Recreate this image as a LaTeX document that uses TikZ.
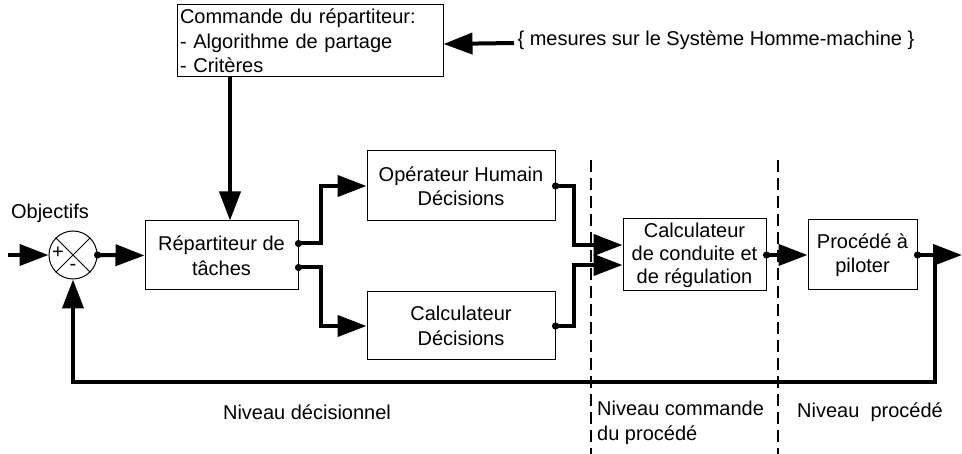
\documentclass[tikz,border=0pt]{standalone}
\usepackage{fontspec}
\setmainfont{Liberation Sans}
\usetikzlibrary{arrows.meta}
\begin{document}
\begin{tikzpicture}[x=1pt,y=-1pt,
  every node/.style={font=\fontsize{20}{24.5}\selectfont},
  box/.style={draw, line width=1pt, align=center, inner sep=0pt},
  conn/.style={line width=4pt, -{Triangle[length=29pt,width=21pt]}},
  dot/.style={fill=black},
  sign/.style={font=\fontsize{20}{20}\selectfont, inner sep=0pt},
  level/.style={line width=1.3pt, dash pattern=on 12pt off 6pt}]
\useasboundingbox (0,0) rectangle (962,454);

% boxes
\node[box, minimum width=266pt, minimum height=72pt, text width=260pt, align=left] (cmd) at (310,41)
  {Commande du répartiteur:\\- Algorithme de partage\\- Critères};
\node[anchor=west] (mes) at (514,40) {\{ mesures sur le Système Homme-machine \}};
\node (obj) at (50,213) {Objectifs};
\node[draw, circle, line width=1pt, minimum size=48pt, inner sep=0pt] (sum) at (73,255) {};
\draw[line width=1pt] (sum.north west) -- (sum.south east) (sum.north east) -- (sum.south west);
\node[sign] (plus) at (58,253) {+};
\node[sign] (minus) at (73,267) {-};
\node[box, minimum width=153pt, minimum height=69pt] (rep) at (221.5,255.5) {Répartiteur de\\tâches};
\node[box, minimum width=188pt, minimum height=70pt] (op) at (461,186) {Opérateur Humain\\Décisions};
\node[box, minimum width=188pt, minimum height=68pt] (cd) at (461,326) {Calculateur\\Décisions};
\node[box, minimum width=143pt, minimum height=72pt, font=\fontsize{20}{23}\selectfont] (cc) at (694.5,255) {Calculateur\\de conduite et\\de régulation};
\node[box, minimum width=109pt, minimum height=70pt] (pr) at (862.5,255) {Procédé à\\piloter};

% level separators
\coordinate (d1t) at (591,160); \coordinate (d1b) at (591,454);
\coordinate (d2t) at (778,160); \coordinate (d2b) at (778,454);
\draw[level] (d1t) -- (d1b);
\draw[level] (d2t) -- (d2b);

% connectors
\coordinate (in) at (8,255);
\draw[conn] (in) -- (sum.west);
\draw[conn] (sum.east) -- (rep.west);
\draw[conn] ([xshift=-80pt]cmd.south) -- ([xshift=-80pt]cmd.south |- rep.north);
\draw[conn] ([yshift=-3pt]mes.west) -- ([yshift=-3pt]cmd.east);
\draw[conn] ([yshift=12pt]rep.east) -- ++(22,0) |- (op.west);
\draw[conn] ([yshift=-12pt]rep.east) -- ++(22,0) |- (cd.west);
\draw[conn] (op.east) -- ++(18,0) |- ([yshift=10pt]cc.west);
\draw[conn] (cd.east) -- ++(18,0) |- ([yshift=-10pt]cc.west);
\draw[conn] (cc.east) -- (pr.west);
\coordinate (out) at (962,255);
\draw[conn] (pr.east) -- (out);
\coordinate (fb) at (935,255);
\draw[conn] (fb) -- ++(0,127) -| (sum.south);

% start dots
\fill[dot] (sum.east) circle (3.6pt);
\fill[dot] ([yshift=12pt]rep.east) circle (3.6pt);
\fill[dot] ([yshift=-12pt]rep.east) circle (3.6pt);
\fill[dot] (op.east) circle (3.6pt);
\fill[dot] (cd.east) circle (3.6pt);
\fill[dot] (cc.east) circle (3.6pt);
\fill[dot] (pr.east) circle (3.6pt);

% level labels
\node (l1) at (307,412) {Niveau décisionnel};
\node[anchor=north west, align=left, inner sep=0pt] (l2) at (597,401) {Niveau commande\\du procédé};
\node[anchor=west, inner sep=0pt] (l3) at (797,412) {Niveau\ \ procédé};
\end{tikzpicture}
\end{document}
